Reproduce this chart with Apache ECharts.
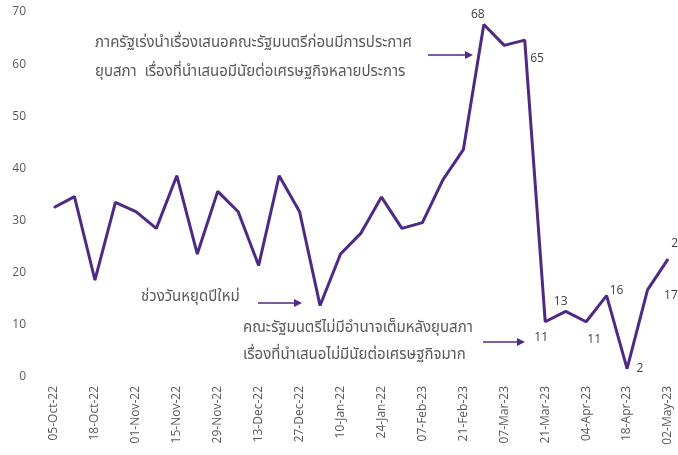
<!DOCTYPE html>
<html>
<head>
<meta charset="utf-8">
<script src="https://cdn.jsdelivr.net/npm/echarts@6/dist/echarts.min.js"></script>
<style>
  html, body { margin: 0; padding: 0; background: #fff; }
  #chart { width: 678px; height: 455px; }
</style>
</head>
<body>
<div id="chart"></div>
<script>
// weekly dates, every other one is shown on the axis
const weeks = [
  '05-Oct-22', '11-Oct-22', '18-Oct-22', '25-Oct-22', '01-Nov-22', '08-Nov-22',
  '15-Nov-22', '22-Nov-22', '29-Nov-22', '06-Dec-22', '13-Dec-22', '20-Dec-22',
  '27-Dec-22', '03-Jan-23', '10-Jan-22', '17-Jan-23', '24-Jan-22', '31-Jan-23',
  '07-Feb-23', '14-Feb-23', '21-Feb-23', '28-Feb-23', '07-Mar-23', '14-Mar-23',
  '21-Mar-23', '28-Mar-23', '04-Apr-23', '11-Apr-23', '18-Apr-23', '25-Apr-23',
  '02-May-23'
];
const values = [
  32.5, 34.6, 18.6, 33.5, 31.7, 28.5, 38.6, 23.6, 35.6, 31.7, 21.4,
  38.6, 31.7, 13.7, 23.6, 27.6, 34.5, 28.5, 29.6, 37.8, 43.6,
  67.6, 63.6, 64.6, 10.6, 12.6, 10.6, 15.6, 1.6, 16.7, 22.6
];
// which points carry a value label, and where it sits
const labelled = {
  21: { position: 'top', offset: [-6, 2] },
  23: { position: 'right', offset: [0, 18] },
  24: { position: 'bottom', offset: [-4, 4] },
  25: { position: 'top', offset: [-5, 2] },
  26: { position: 'bottom', offset: [8, 6] },
  27: { position: 'top', offset: [10, 6] },
  28: { position: 'right', offset: [4, 0] },
  29: { position: 'right', offset: [11, 6] },
  30: { position: 'top', offset: [10, -4] }
};

const purple = '#4e2a84';
const grey = '#595959';
const thai = '"Noto Sans Thai", "Noto Sans", Tahoma, sans-serif';

const seriesData = values.map(function (v, i) {
  const item = { value: v };
  if (labelled[i]) {
    item.label = Object.assign({ show: true }, labelled[i]);
  }
  return item;
});

function arrow(x1, x2, y) {
  return [
    { type: 'line', shape: { x1: x1, y1: y, x2: x2 - 7, y2: y },
      style: { stroke: purple, lineWidth: 1.5 } },
    { type: 'polygon', shape: { points: [[x2 - 8, y - 4], [x2, y], [x2 - 8, y + 4]] },
      style: { fill: purple } }
  ];
}

const chart = echarts.init(document.getElementById('chart'));
chart.setOption({
  animation: false,
  grid: { left: 54, right: 10, top: 12, bottom: 78 },
  xAxis: {
    type: 'category',
    data: weeks,
    boundaryGap: false,
    axisLine: { show: false },
    axisTick: { show: false },
    axisLabel: {
      interval: 1,
      rotate: 90,
      margin: 9,
      color: grey,
      fontSize: 12,
      fontFamily: 'Open Sans, sans-serif'
    }
  },
  yAxis: {
    type: 'value',
    min: 0,
    max: 70,
    interval: 10,
    splitLine: { show: false },
    axisLine: { show: false },
    axisLabel: { color: grey, fontSize: 12, margin: 28, fontFamily: 'Open Sans, sans-serif' }
  },
  series: [{
    type: 'line',
    data: seriesData,
    symbol: 'circle',
    symbolSize: 1,
    showAllSymbol: true,
    itemStyle: { color: purple },
    lineStyle: { color: purple, width: 3 },
    label: {
      show: false,
      color: '#404040',
      fontSize: 12,
      fontFamily: 'Open Sans, sans-serif',
      formatter: function (p) { return Math.round(p.value); }
    }
  }],
  graphic: [
    { type: 'text', left: 95, top: 29,
      style: { text: 'ภาครัฐเร่งนำเรื่องเสนอคณะรัฐมนตรีก่อนมีการประกาศ\nยุบสภา  เรื่องที่นำเสนอมีนัยต่อเศรษฐกิจหลายประการ',
        fill: grey, font: '15px ' + thai, lineHeight: 29 } },
    { type: 'text', left: 141, top: 290,
      style: { text: 'ช่วงวันหยุดปีใหม่', fill: grey, font: '15px ' + thai } },
    { type: 'text', left: 243, top: 315,
      style: { text: 'คณะรัฐมนตรีไม่มีอำนาจเต็มหลังยุบสภา\nเรื่องที่นำเสนอไม่มีนัยต่อเศรษฐกิจมาก',
        fill: grey, font: '15px ' + thai, lineHeight: 27 } }
  ].concat(arrow(428, 473, 55), arrow(258, 302, 303), arrow(483, 525, 342))
});
</script>
</body>
</html>
